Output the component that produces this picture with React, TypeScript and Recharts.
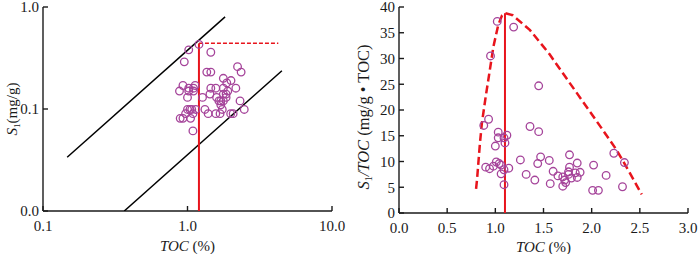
import { ScatterChart, Scatter, XAxis, YAxis } from "recharts";

const FONT = "'Liberation Serif', 'Times New Roman', serif";
const PURPLE = "#a5449a";
const RED = "#e8141c";
const INK = "#1a1a1a";

// left panel: S1 against TOC, both on log scales
const leftToc = [
  1.2, 1.02, 1.45, 0.95, 1.36, 1.45, 2.22, 2.35, 0.93, 0.88, 1.02, 1.1, 1.13, 1.02, 1.1, 1.0, 1.27, 1.77,
  2.0, 1.87, 1.45, 1.57, 1.77, 2.16, 1.43, 1.59, 1.9, 1.77, 1.85, 1.85, 1.7, 1.65, 1.77, 1.7, 1.74, 2.31,
  2.47, 1.32, 1.0, 1.04, 1.07, 1.14, 0.97, 1.09, 0.89, 0.93, 1.05, 1.39, 1.57, 1.68, 1.99, 2.07, 1.09,
];
const leftS1 = [
  0.43, 0.38, 0.36, 0.29, 0.23, 0.23, 0.26, 0.23, 0.17, 0.15, 0.16, 0.16, 0.17, 0.15, 0.15, 0.13, 0.13, 0.2,
  0.19, 0.18, 0.16, 0.16, 0.16, 0.16, 0.14, 0.13, 0.15, 0.14, 0.14, 0.13, 0.12, 0.12, 0.12, 0.11, 0.099, 0.12,
  0.099, 0.099, 0.099, 0.099, 0.099, 0.099, 0.09, 0.09, 0.081, 0.081, 0.081, 0.09, 0.09, 0.09, 0.09, 0.09, 0.061,
];
const upperLineToc = [0.147, 1.82];
const upperLineS1 = [0.0336, 0.8];
const lowerLineToc = [0.365, 4.5];
const lowerLineS1 = [0.01, 0.237];
const leftCutToc = [1.2, 1.2];
const leftCutS1 = [0.01, 0.44];
const plateauToc = [1.2, 4.25];
const plateauS1 = [0.44, 0.44];
const leftXTicks = [0.1, 1, 10];
const leftYTicks = [0.01, 0.1, 1];

// right panel: S1/TOC against TOC
const rightToc = [
  1.02, 1.19, 0.95, 1.45, 0.88, 0.93, 1.36, 1.45, 1.03, 1.12, 1.03, 1.09, 1.1, 1.0, 1.26, 1.47, 1.44, 1.56,
  1.77, 1.85, 1.77, 2.02, 2.23, 2.34, 2.15, 2.32, 2.01, 2.07, 0.9, 0.94, 0.98, 1.01, 1.04, 1.06, 1.06, 1.09,
  1.14, 1.09, 1.32, 1.41, 1.57, 1.6, 1.65, 1.7, 1.72, 1.7, 1.73, 1.76, 1.76, 1.83, 1.85, 1.88, 1.79,
];
const rightRatio = [
  37.2, 36.1, 30.5, 24.7, 17.0, 18.2, 16.8, 15.8, 15.7, 15.1, 14.6, 14.6, 13.6, 13.0, 10.3, 10.9, 9.6, 10.2,
  11.3, 9.7, 8.9, 9.3, 11.6, 9.8, 7.3, 5.1, 4.4, 4.4, 8.9, 8.6, 9.1, 9.9, 9.6, 9.3, 7.6, 8.4,
  8.7, 5.5, 7.5, 6.4, 5.7, 8.1, 7.2, 7.0, 6.4, 5.2, 5.9, 8.0, 7.5, 7.8, 6.9, 7.9, 6.8,
];
const envelopeToc = [0.8, 0.81, 0.84, 0.86, 0.9, 0.94, 0.98, 1.03, 1.07, 1.1, 1.18, 1.36, 1.56, 1.74, 1.91, 2.12, 2.26, 2.39, 2.52];
const envelopeRatio = [4.7, 6.5, 13.5, 17.4, 22.6, 27.4, 32.3, 36.5, 38.4, 38.8, 38.4, 35.5, 30.9, 26.1, 21.6, 16.0, 12.2, 8.0, 3.6];
const rightCutToc = [1.1, 1.1];
const rightCutRatio = [0, 38.8];
const rightXTicks = [0, 0.5, 1, 1.5, 2, 2.5, 3];
const rightYTicks = [0, 5, 10, 15, 20, 25, 30, 35, 40];

const zip = (xs: number[], ys: number[]) => xs.map((x, i) => ({ x, y: ys[i] }));

const fmt1 = (v: number) => v.toFixed(1);
const tickStyle = { fill: INK, fontSize: 15, fontFamily: FONT };
const axisStyle = { stroke: INK, strokeWidth: 1.4 };

const Ring = (p: any) => <circle cx={p.cx} cy={p.cy} r={3.8} fill="none" stroke={PURPLE} strokeWidth={1.3} />;
const NoDot = () => <g />;

function XTitle(p: any) {
  const vb = p.viewBox;
  return (
    <text x={vb.x + vb.width / 2} y={vb.y + p.dy} textAnchor="middle" fontFamily={FONT} fontSize={15} fill={INK}>
      <tspan fontStyle="italic">TOC</tspan>
      <tspan>{" (%)"}</tspan>
    </text>
  );
}

function LeftYTitle(p: any) {
  const vb = p.viewBox;
  const cx = vb.x + 12;
  const cy = vb.y + vb.height / 2;
  return (
    <text transform={`translate(${cx},${cy}) rotate(-90)`} textAnchor="middle" dy="0.35em" fontFamily={FONT} fontSize={15} fill={INK}>
      <tspan fontStyle="italic">S</tspan>
      <tspan fontSize={9} dy={3}>1</tspan>
      <tspan dy={-3}>(mg/g)</tspan>
    </text>
  );
}

function RightYTitle(p: any) {
  const vb = p.viewBox;
  const cx = vb.x + 13;
  const cy = vb.y + 110;
  return (
    <text transform={`translate(${cx},${cy}) rotate(-90)`} textAnchor="middle" dy="0.35em" fontFamily={FONT} fontSize={16.5} fill={INK}>
      <tspan fontStyle="italic">S</tspan>
      <tspan fontSize={10} dy={3}>1</tspan>
      <tspan dy={-3} fontStyle="italic">/TOC</tspan>
      <tspan>{" (mg/g • TOC)"}</tspan>
    </text>
  );
}

function LeftPanel() {
  return (
    <ScatterChart width={350} height={254} margin={{ top: 7, right: 18, bottom: 0, left: 0 }}>
      <XAxis
        type="number"
        dataKey="x"
        scale="log"
        domain={[0.1, 10]}
        ticks={leftXTicks}
        allowDataOverflow
        interval={0}
        height={43}
        tickSize={-5}
        tickMargin={14}
        tickFormatter={fmt1}
        tick={tickStyle}
        axisLine={axisStyle}
        tickLine={axisStyle}
        label={(p: any) => <XTitle {...p} dy={40} />}
      />
      <YAxis
        type="number"
        dataKey="y"
        scale="log"
        domain={[0.01, 1]}
        ticks={leftYTicks}
        allowDataOverflow
        interval={0}
        width={43}
        tickSize={-5}
        tickMargin={9}
        tickFormatter={fmt1}
        tick={tickStyle}
        axisLine={axisStyle}
        tickLine={axisStyle}
        label={(p: any) => <LeftYTitle {...p} />}
      />
      <Scatter data={zip(upperLineToc, upperLineS1)} shape={NoDot} line={{ stroke: "#000", strokeWidth: 1.5 }} isAnimationActive={false} />
      <Scatter data={zip(lowerLineToc, lowerLineS1)} shape={NoDot} line={{ stroke: "#000", strokeWidth: 1.5 }} isAnimationActive={false} />
      <Scatter data={zip(plateauToc, plateauS1)} shape={NoDot} line={{ stroke: RED, strokeWidth: 1.5, strokeDasharray: "4 2" }} isAnimationActive={false} />
      <Scatter data={zip(leftCutToc, leftCutS1)} shape={NoDot} line={{ stroke: RED, strokeWidth: 2 }} isAnimationActive={false} />
      <Scatter data={zip(leftToc, leftS1)} shape={Ring} isAnimationActive={false} />
    </ScatterChart>
  );
}

function RightPanel() {
  return (
    <ScatterChart width={350} height={254} margin={{ top: 7, right: 12, bottom: 0, left: 0 }}>
      <XAxis
        type="number"
        dataKey="x"
        domain={[0, 3]}
        ticks={rightXTicks}
        allowDataOverflow
        interval={0}
        height={41}
        tickSize={-5}
        tickMargin={14}
        tickFormatter={fmt1}
        tick={tickStyle}
        axisLine={axisStyle}
        tickLine={axisStyle}
        label={(p: any) => <XTitle {...p} dy={39} />}
      />
      <YAxis
        type="number"
        dataKey="y"
        domain={[0, 40]}
        ticks={rightYTicks}
        allowDataOverflow
        interval={0}
        width={49}
        tickSize={-5}
        tickMargin={9}
        tick={tickStyle}
        axisLine={axisStyle}
        tickLine={axisStyle}
        label={(p: any) => <RightYTitle {...p} />}
      />
      <Scatter data={zip(envelopeToc, envelopeRatio)} shape={NoDot} line={{ stroke: RED, strokeWidth: 2.5, strokeDasharray: "8 4" }} isAnimationActive={false} />
      <Scatter data={zip(rightCutToc, rightCutRatio)} shape={NoDot} line={{ stroke: RED, strokeWidth: 2 }} isAnimationActive={false} />
      <Scatter data={zip(rightToc, rightRatio)} shape={Ring} isAnimationActive={false} />
    </ScatterChart>
  );
}

export default function App() {
  return (
    <div style={{ position: "absolute", left: 0, top: 0, width: 700, height: 254, background: "#fff" }}>
      <div style={{ position: "absolute", left: 0, top: 0 }}>
        <LeftPanel />
      </div>
      <div style={{ position: "absolute", left: 350, top: 0 }}>
        <RightPanel />
      </div>
    </div>
  );
}
